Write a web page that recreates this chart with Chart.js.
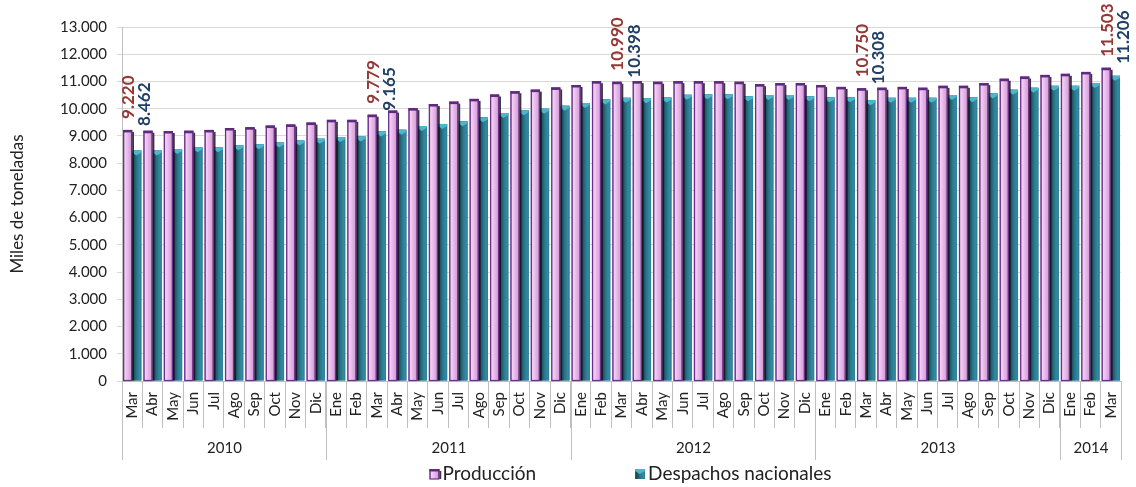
<!DOCTYPE html>
<html><head><meta charset="utf-8">
<script src="https://cdn.jsdelivr.net/npm/chart.js@4.4.1/dist/chart.umd.min.js"></script>
<style>html,body{margin:0;padding:0;background:#fff}#wrap{width:1136px;height:487px;position:relative}</style>
</head><body><div id="wrap"><canvas id="c"></canvas></div>
<script>
// ---- data ----
const months = ['Mar','Abr','May','Jun','Jul','Ago','Sep','Oct','Nov','Dic',
  'Ene','Feb','Mar','Abr','May','Jun','Jul','Ago','Sep','Oct','Nov','Dic',
  'Ene','Feb','Mar','Abr','May','Jun','Jul','Ago','Sep','Oct','Nov','Dic',
  'Ene','Feb','Mar','Abr','May','Jun','Jul','Ago','Sep','Oct','Nov','Dic',
  'Ene','Feb','Mar'];
const years = ['2010','2011','2012','2013','2014'];
const yearCounts = [10,12,12,12,3];
const produccion = [9220,9190,9180,9190,9220,9290,9320,9380,9420,9490,
  9590,9590,9779,9930,10020,10170,10260,10360,10520,10640,10700,10780,
  10870,11010,10990,11010,10990,11010,11010,11010,10990,10900,10940,10940,
  10870,10800,10750,10770,10800,10770,10840,10840,10940,11100,11180,11240,
  11280,11350,11503];
const despachos = [8462,8462,8520,8580,8580,8660,8690,8760,8830,8900,
  8960,8980,9165,9230,9360,9440,9540,9690,9840,9940,10000,10110,
  10210,10340,10398,10380,10410,10510,10530,10530,10460,10500,10500,10460,
  10420,10420,10308,10400,10400,10400,10500,10420,10560,10700,10770,10840,
  10840,10940,11206];
const labeledIdx = [0,12,24,36,48];
const seriesNames = ['Producción','Despachos nacionales'];
const yMin = 0, yMax = 13000, yStep = 1000;

const fmt = v => String(v).replace(/\B(?=(\d{3})+(?!\d))/g, '.');
const FONT = 'Lato';

function drawPink(ctx, x0, x1, top, base){
  const w = x1 - x0;
  const g = ctx.createLinearGradient(x0,0,x1,0);
  g.addColorStop(0,'#a577b3'); g.addColorStop(0.2,'#f2d2f3'); g.addColorStop(0.45,'#eabcec');
  g.addColorStop(0.8,'#d8a2db'); g.addColorStop(1,'#9665a3');
  ctx.fillStyle = g; ctx.fillRect(x0, top, w, base - top);
  ctx.strokeStyle = '#6b3088'; ctx.lineWidth = 1.2;
  ctx.strokeRect(x0 + 0.6, top + 0.6, w - 1.2, base - top - 0.6);
  ctx.fillStyle = '#5e2a7e'; ctx.fillRect(x0, top, w, 2.5);
  ctx.fillStyle = 'rgba(20,20,30,0.85)'; ctx.fillRect(x1, top + 2, 1.8, base - top - 2);
}
function drawTeal(ctx, x0, x1, top, base){
  const w = x1 - x0;
  const g = ctx.createLinearGradient(x0,0,x1,0);
  g.addColorStop(0,'#163f49'); g.addColorStop(0.25,'#1d5867'); g.addColorStop(0.5,'#2a7589');
  g.addColorStop(0.8,'#328aa1'); g.addColorStop(1,'#2c7f95');
  ctx.fillStyle = g; ctx.fillRect(x0, top, w, base - top);
  ctx.fillStyle = '#4fb5cd';
  ctx.beginPath(); ctx.moveTo(x0, top); ctx.lineTo(x1, top); ctx.lineTo(x1, top + 2);
  ctx.lineTo(x0 + w*0.45, top + 5); ctx.lineTo(x0, top + 2); ctx.closePath(); ctx.fill();
}

const barShade = {
  id:'barShade',
  afterDatasetDraw(chart, args){
    const ctx = chart.ctx; const meta = args.meta;
    ctx.save();
    meta.data.forEach(el => {
      const x0 = el.x - el.width/2, x1 = el.x + el.width/2;
      if (args.index === 0) drawPink(ctx, x0, x1, el.y, el.base);
      else drawTeal(ctx, x0, x1, el.y, el.base);
    });
    ctx.restore();
  }
};

const annot = {
  id:'annot',
  afterDraw(chart){
    const ctx = chart.ctx, ca = chart.chartArea, xs = chart.scales.x;
    const cw = xs.getPixelForValue(1) - xs.getPixelForValue(0);
    ctx.save();
    // year separators and labels
    ctx.strokeStyle = '#bfbfbf'; ctx.lineWidth = 1;
    ctx.fillStyle = '#222'; ctx.font = '15px ' + FONT;
    ctx.textAlign = 'center'; ctx.textBaseline = 'middle';
    let start = 0;
    const bx = i => Math.round(xs.getPixelForValue(i) - cw/2) + 0.5;
    years.forEach((yr, k) => {
      const end = start + yearCounts[k];
      const xa = bx(start), xb = bx(end);
      ctx.beginPath(); ctx.moveTo(xa, ca.bottom); ctx.lineTo(xa, ca.bottom + 79); ctx.stroke();
      ctx.beginPath(); ctx.moveTo(xb, ca.bottom); ctx.lineTo(xb, ca.bottom + 79); ctx.stroke();
      ctx.fillText(yr, (xa + xb)/2, ca.bottom + 67);
      start = end;
    });
    // data labels
    const m0 = chart.getDatasetMeta(0), m1 = chart.getDatasetMeta(1);
    ctx.font = 'bold 17px ' + FONT;
    ctx.textAlign = 'left'; ctx.textBaseline = 'middle';
    labeledIdx.forEach(i => {
      const p = m0.data[i], t = m1.data[i];
      ctx.save(); ctx.translate(p.x + 1, p.y - 11); ctx.rotate(-Math.PI/2);
      ctx.fillStyle = '#953735'; ctx.fillText(fmt(produccion[i]), 0, 0); ctx.restore();
      ctx.save(); ctx.translate(t.x + 8, p.y - 4); ctx.rotate(-Math.PI/2);
      ctx.fillStyle = '#1f3f66'; ctx.fillText(fmt(despachos[i]), 0, 0); ctx.restore();
    });
    // legend
    ctx.font = '19px ' + FONT; ctx.textAlign = 'left'; ctx.textBaseline = 'middle';
    const w1 = ctx.measureText(seriesNames[0]).width, w2 = ctx.measureText(seriesNames[1]).width;
    const box = 10, gbt = 3, gap = 99;
    const total = box + gbt + w1 + gap + box + gbt + w2;
    let x = (ca.left + ca.right)/2 + 9 - total/2;
    const ly = chart.height - 13;
    drawPink(ctx, x, x + box, ly - 5, ly + 5);
    ctx.fillStyle = '#222'; ctx.fillText(seriesNames[0], x + box + gbt, ly);
    x += box + gbt + w1 + gap;
    drawTeal(ctx, x, x + box, ly - 5, ly + 5);
    ctx.fillStyle = '#222'; ctx.fillText(seriesNames[1], x + box + gbt, ly);
    ctx.restore();
  }
};

new Chart(document.getElementById('c'), {
  type:'bar',
  data:{ labels: months, datasets:[
    {label: seriesNames[0], data: produccion, backgroundColor:'#e3b0e6', borderWidth:0, categoryPercentage:0.9, barPercentage:1},
    {label: seriesNames[1], data: despachos, backgroundColor:'#2d8296', borderWidth:0, categoryPercentage:0.9, barPercentage:1}
  ]},
  options:{
    responsive:true, maintainAspectRatio:false, animation:false, devicePixelRatio:1,
    layout:{padding:{top:27, right:15, left:0, bottom:0}},
    plugins:{legend:{display:false}, tooltip:{enabled:false}},
    scales:{
      x:{
        grid:{display:true, offset:true, drawOnChartArea:false, drawTicks:true, tickLength:47, color:'#bfbfbf'},
        border:{display:true, color:'#bfbfbf'},
        ticks:{autoSkip:false, minRotation:90, maxRotation:90, padding:-36, color:'#222', font:{family:FONT, size:15}},
        afterFit(s){ s.height = 106; }
      },
      y:{
        min:yMin, max:yMax,
        ticks:{stepSize:yStep, callback:v => fmt(v), color:'#222', padding:10, font:{family:FONT, size:15}},
        grid:{color:'#d9d9d9', tickLength:5},
        border:{display:true, color:'#bfbfbf'},
        title:{display:true, text:'Miles de toneladas', color:'#222', font:{family:FONT, size:17}, padding:{top:7, bottom:0}},
        afterFit(s){ s.width = 122; }
      }
    }
  },
  plugins:[barShade, annot]
});
</script></body></html>
